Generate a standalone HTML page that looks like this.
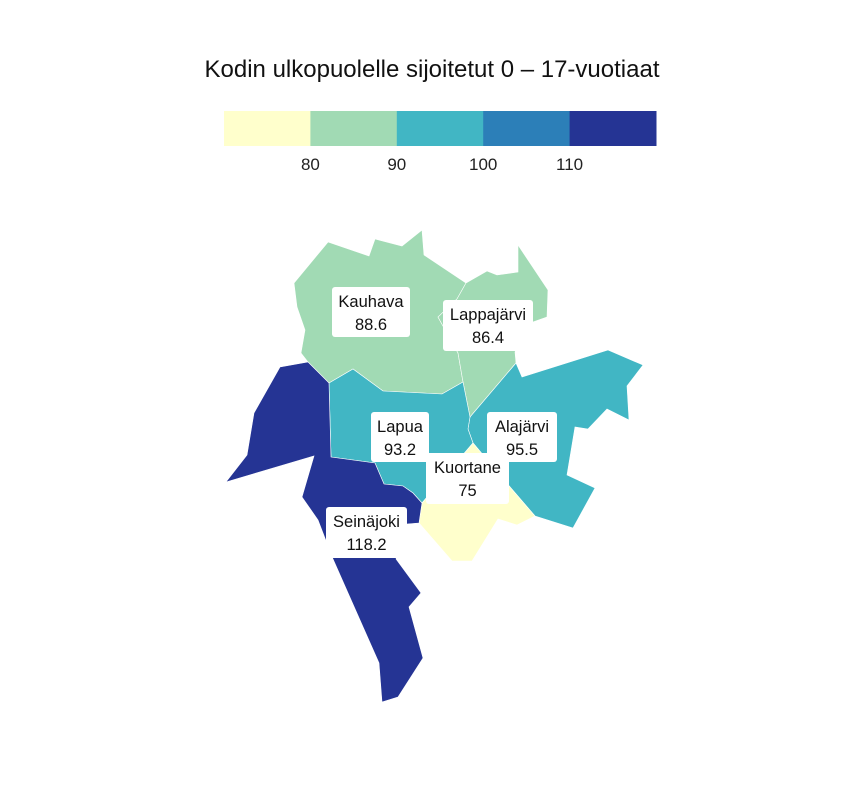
<!DOCTYPE html>
<html><head><meta charset="utf-8"><style>
body{margin:0;background:#fff;}
svg{display:block;font-family:"Liberation Sans",sans-serif;}
</style></head><body>
<svg id="chart" width="864" height="792" viewBox="0 0 864 792">
<rect width="864" height="792" fill="#fff"/>
<text x="432" y="77" text-anchor="middle" font-size="24" fill="#111">Kodin ulkopuolelle sijoitetut 0 – 17-vuotiaat</text>
<g id="legend"></g>
<g id="regions"></g>
<g id="labels"></g>
</svg>
<script>
const regionNames = ["Kauhava","Lappajärvi","Alajärvi","Lapua","Kuortane","Seinäjoki"];
const regionValues = [88.6, 86.4, 95.5, 93.2, 75, 118.2];
const legendBreaks = [80, 90, 100, 110];
const legendColors = ["#ffffcc","#a1dab4","#41b6c4","#2c7fb8","#253494"];

const shapes = {
"Kauhava":[[328,242],[369,256],[375,239],[402,246],[422,230],[424,255],[466,283],[457,299],[438,317],[458,353],[463,382],[442,394],[383,391],[353,369],[329,383],[308,362],[301,353],[305,330],[297,307],[294,283]],
"Lappajärvi":[[466,283],[487,271],[497,275],[518,272],[518,245],[548,290],[547,317],[533,322],[515,352],[516,363],[470,417],[463,382],[458,353],[438,317],[457,299]],
"Alajärvi":[[516,363],[522,377],[608,350],[643,365],[627,386],[629,420],[607,409],[588,429],[575,427],[567,475],[595,488],[573,528],[535,516],[510,487],[473,443],[468,429],[470,417]],
"Lapua":[[329,383],[353,369],[383,391],[442,394],[463,382],[470,417],[468,429],[473,443],[422,503],[413,493],[403,486],[384,484],[375,463],[331,457]],
"Kuortane":[[473,443],[510,487],[535,516],[517,525],[498,519],[472,561],[452,561],[419,523],[422,503]],
"Seinäjoki":[[308,362],[329,383],[331,457],[375,463],[384,484],[403,486],[413,493],[422,503],[419,523],[407,524],[396,559],[421,593],[409,607],[423,658],[398,697],[382,702],[379,663],[333,559],[318,520],[302,497],[314,456],[226,482],[247,455],[254,413],[280,367]]
};
const labelBoxes = {
"Kauhava":[332,287,78,50],"Lappajärvi":[443,300,90,51],"Lapua":[371,412,58,50],
"Alajärvi":[487,412,70,50],"Kuortane":[426,453,83,51],"Seinäjoki":[326,507,81,51]
};
const NS="http://www.w3.org/2000/svg";
function colorFor(v){let i=0;while(i<legendBreaks.length&&v>=legendBreaks[i])i++;return legendColors[i];}
const lg=document.getElementById('legend');
const lx0=224,lw=432,ly=111,lh=35,seg=lw/legendColors.length;
legendColors.forEach((c,i)=>{const r=document.createElementNS(NS,'rect');
r.setAttribute('x',lx0+i*seg);r.setAttribute('y',ly);r.setAttribute('width',seg+0.5);r.setAttribute('height',lh);r.setAttribute('fill',c);


lg.appendChild(r);});
legendBreaks.forEach((b,i)=>{const t=document.createElementNS(NS,'text');
t.setAttribute('x',lx0+(i+1)*seg);t.setAttribute('y',170);t.setAttribute('text-anchor','middle');t.setAttribute('font-size','17');t.setAttribute('fill','#222');t.textContent=b;


lg.appendChild(t);});
const rg=document.getElementById('regions'),lb=document.getElementById('labels');
regionNames.forEach((n,i)=>{const p=document.createElementNS(NS,'polygon');
p.setAttribute('points',shapes[n].map(q=>q.join(',')).join(' '));
p.setAttribute('fill',colorFor(regionValues[i]));p.setAttribute('stroke','#fff');p.setAttribute('stroke-width','0.6');


rg.appendChild(p);});
regionNames.forEach((n,i)=>{const b=labelBoxes[n];const g=document.createElementNS(NS,'g');


const r=document.createElementNS(NS,'rect');r.setAttribute('x',b[0]);r.setAttribute('y',b[1]);r.setAttribute('width',b[2]);r.setAttribute('height',b[3]);r.setAttribute('rx',3);r.setAttribute('fill','#fff');g.appendChild(r);
const cx=b[0]+b[2]/2;
[n,String(regionValues[i])].forEach((s,k)=>{const t=document.createElementNS(NS,'text');t.setAttribute('x',cx);t.setAttribute('y',b[1]+20+k*23);t.setAttribute('text-anchor','middle');t.setAttribute('font-size','16.5');t.setAttribute('fill','#111');t.textContent=s;g.appendChild(t);});
lb.appendChild(g);});
</script>
</body></html>
